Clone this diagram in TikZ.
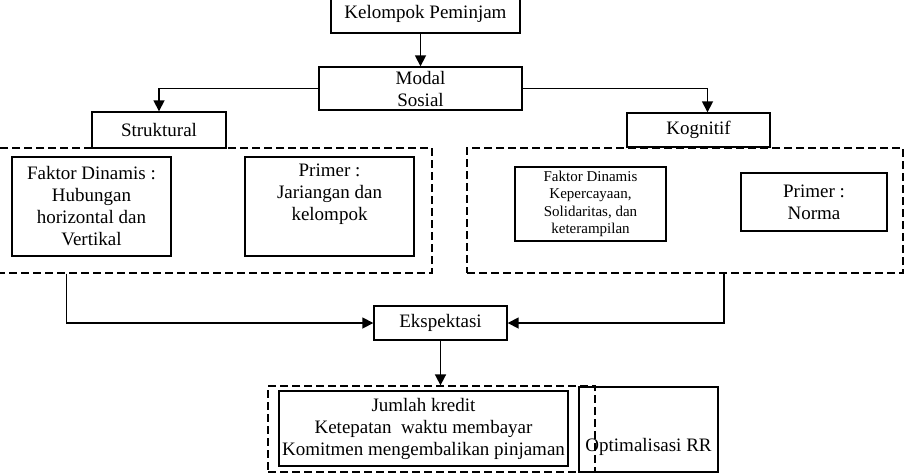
\documentclass[tikz,border=0pt]{standalone}
\usepackage{fontspec}
\setmainfont{Liberation Serif}
\usetikzlibrary{arrows.meta}

\tikzset{
    box/.style={draw, line width=1.4pt, inner sep=0pt, align=center,
        font=\fontsize{19}{22}\selectfont},
    group/.style={draw, line width=1.3pt, dash pattern=on 8pt off 4pt, inner sep=0pt},
    small/.style={font=\fontsize{15}{17.5}\selectfont},
    link/.style={line width=1.7pt, ->}
}

\begin{document}
\begin{tikzpicture}[x=1pt, y=-1pt, >={Triangle[length=11pt, width=11pt]}]
    \useasboundingbox (0,0) rectangle (907,474);

    \node[box, minimum width=189, minimum height=38](kp)   at (425.5,14) {Kelompok Peminjam};
    \node[box, minimum width=203, minimum height=43](ms)   at (420.5,88.5) {Modal\\ Sosial};
    \node[box, minimum width=134, minimum height=36](st)   at (159,130) {Struktural};
    \node[box, minimum width=143, minimum height=34](kg)   at (698.5,130) {Kognitif};

    % kelompok struktural
    \node[group, minimum width=435, minimum height=125](grpL) at (214.5,210.5) {};
    \node[box, minimum width=159, minimum height=99](fdL)  at (91.5,206.5)
        {Faktor Dinamis :\\ Hubungan\\ horizontal dan\\ Vertikal};
    \node[box, minimum width=169, minimum height=99](prL)  at (329.5,206.5) {};
    \node[font=\fontsize{19}{22}\selectfont, align=center] at (329.5,194.5)
        {Primer :\\ Jariangan dan\\ kelompok};

    % kelompok kognitif
    \node[group, minimum width=436, minimum height=125](grpR) at (685,210.5) {};
    \node[box, small, minimum width=151, minimum height=74](fdR) at (590.5,204)
        {Faktor Dinamis\\ Kepercayaan,\\ Solidaritas, dan\\ keterampilan};
    \node[box, minimum width=146, minimum height=58](prR)  at (814,202) {Primer :\\ Norma};

    \node[box, minimum width=133, minimum height=34](ek)   at (440.5,323) {Ekspektasi};

    % hasil
    \node[group, minimum width=327, minimum height=86](grpB) at (431.5,429) {};
    \node[box, minimum width=289, minimum height=75](jk)   at (423.5,428.5)
        {Jumlah kredit\\ Ketepatan\ \ waktu membayar\\ Komitmen mengembalikan pinjaman};
    \node[box, minimum width=139, minimum height=85, text height=47pt, text depth=4pt](opt)
        at (648.5,429.5) {Optimalisasi RR};

    \draw[link] (kp.south -| ms.north) -- (ms.north);
    \draw[link] (ms.west) -| (st.north);
    \draw[link] (ms.east) -| ([xshift=9pt]kg.north);
    \draw[link] ([xshift=70pt]grpL.south west) |- (ek.west);
    \draw[link] ([xshift=-180pt]grpR.south east) |- (ek.east);
    \draw[link] (ek.south) -- (ek.south |- grpB.north);
\end{tikzpicture}
\end{document}
